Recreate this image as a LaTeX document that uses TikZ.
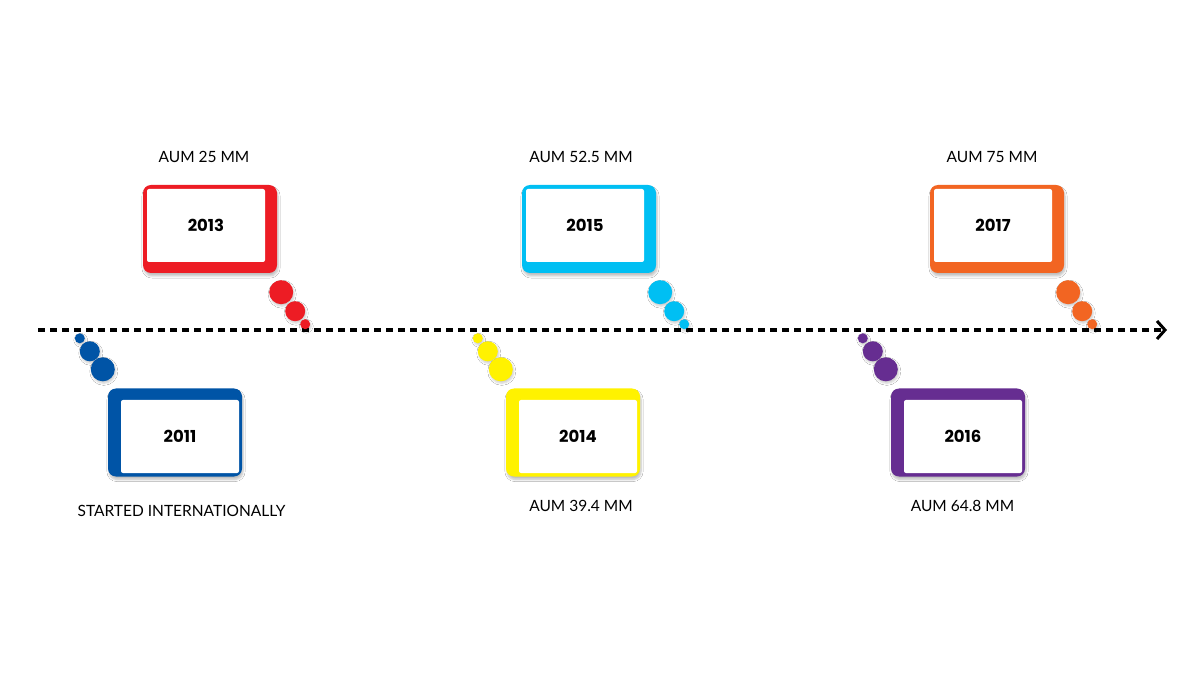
\documentclass[tikz,border=0pt]{standalone}
\usepackage{fontspec}
\setmainfont{Lato}
\newfontfamily\yearfont{Poppins}
\usepackage{tikz}
\usetikzlibrary{positioning,calc,arrows.meta,shadows.blur}

\definecolor{red2013}{HTML}{ED1C24}
\definecolor{blue2011}{HTML}{0054A6}
\definecolor{cyan2015}{HTML}{00BFF3}
\definecolor{yellow2014}{HTML}{FFF200}
\definecolor{orange2017}{HTML}{F26522}
\definecolor{purple2016}{HTML}{662D91}

\begin{document}
\begin{tikzpicture}[x=1pt, y=1pt,
			yearbox/.style={rectangle, rounded corners=8pt, minimum width=134pt, minimum height=88pt, inner sep=0pt,
				blur shadow={shadow xshift=1pt, shadow yshift=-3pt, shadow blur steps=6, shadow opacity=25}},
			yearcard/.style={rectangle, rounded corners=2pt, fill=white, minimum width=118pt, minimum height=73pt, inner sep=0pt,
				font=\yearfont\bfseries\fontsize{16.5}{19}\selectfont},
			dot/.style={blur shadow={shadow xshift=1pt, shadow yshift=-2pt, shadow blur steps=4, shadow opacity=20}},
			label/.style={rectangle, inner sep=0pt, text height=11pt, text depth=0pt, font=\fontsize{15.5}{18}\selectfont}]
			\useasboundingbox[fill=white] (0,0) rectangle (1199,678);
			% timeline
			\coordinate (start) at (38,348);
			\coordinate (end) at (1167,348);
			\draw[line width=3.6pt, dash pattern=on 7pt off 5pt, -{Straight Barb[length=8pt, width=18pt, line width=3pt]}] (start) -- (end);
			% boxes above the line
			\node[yearbox, fill=red2013] (box2013) at (210,449) {};
			\node[yearcard] (card2013) at ([shift={(-4,3.5)}]box2013.center) {2013};
			\node[label] (label2013) [above=22.5pt of box2013, xshift=-6pt] {AUM 25 MM};
			\node[yearbox, fill=cyan2015] (box2015) at (589,449) {};
			\node[yearcard] (card2015) at ([shift={(-4,3.5)}]box2015.center) {2015};
			\node[label] (label2015) [above=22.5pt of box2015, xshift=-8pt] {AUM 52.5 MM};
			\node[yearbox, fill=orange2017] (box2017) at (997,449) {};
			\node[yearcard] (card2017) at ([shift={(-4,3.5)}]box2017.center) {2017};
			\node[label] (label2017) [above=22.5pt of box2017, xshift=-5pt] {AUM 75 MM};
			% boxes below the line
			\node[yearbox, fill=blue2011] (box2011) at (175,245.5) {};
			\node[yearcard] (card2011) at ([shift={(5,-4)}]box2011.center) {2011};
			\node[label] (label2011) [below=29pt of box2011, xshift=6.5pt] {STARTED INTERNATIONALLY};
			\node[yearbox, fill=yellow2014] (box2014) at (573,245.5) {};
			\node[yearcard] (card2014) at ([shift={(5,-4)}]box2014.center) {2014};
			\node[label] (label2014) [below=23.5pt of box2014, xshift=8pt] {AUM 39.4 MM};
			\node[yearbox, fill=purple2016] (box2016) at (958,245.5) {};
			\node[yearcard] (card2016) at ([shift={(5,-4)}]box2016.center) {2016};
			\node[label] (label2016) [below=23.5pt of box2016, xshift=4.5pt] {AUM 64.8 MM};
			% bubbles
			\foreach \dx/\dy/\r in {4/-19/12, 18/-38/10, 28/-51/5} {
				\fill[dot, red2013] ($(box2013.south east)+(\dx,\dy)$) circle (\r);
				\fill[dot, cyan2015] ($(box2015.south east)+(\dx,\dy)$) circle (\r);
				\fill[dot, orange2017] ($(box2017.south east)+(\dx,\dy)$) circle (\r);
			}
			\foreach \dx/\dy/\r in {-28/50/5, -18/37/10, -5/19/12} {
				\fill[dot, blue2011] ($(box2011.north west)+(\dx,\dy)$) circle (\r);
				\fill[dot, yellow2014] ($(box2014.north west)+(\dx,\dy)$) circle (\r);
				\fill[dot, purple2016] ($(box2016.north west)+(\dx,\dy)$) circle (\r);
			}
		\end{tikzpicture}
\end{document}
